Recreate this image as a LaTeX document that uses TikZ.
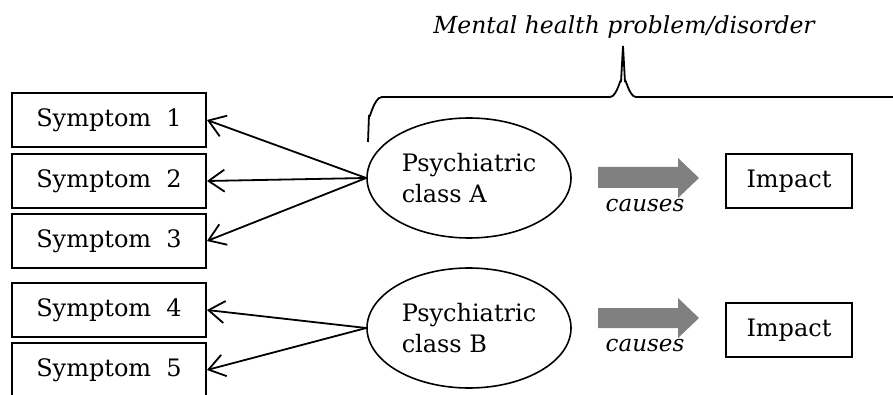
\documentclass[tikz,border=0pt]{standalone}
\usepackage{fontspec}
\setmainfont{DejaVu Serif}
\usetikzlibrary{arrows.meta,shapes.geometric}
\definecolor{arrowgrey}{RGB}{128,128,128}
\begin{document}
\begin{tikzpicture}[x=1pt,y=-1pt,
  every node/.style={font=\fontsize{24}{31}\selectfont},
  symbox/.style={draw,line width=1.9pt,minimum width=194pt,minimum height=54pt,inner sep=0pt},
  impbox/.style={draw,line width=1.9pt,minimum width=126pt,minimum height=54pt,inner sep=0pt},
  classell/.style={draw,ellipse,line width=1.6pt,minimum width=204pt,minimum height=120pt,inner sep=0pt,align=left},
  link/.style={line width=1.8pt,-{Straight Barb[length=16pt,width=22pt,line width=1.8pt]}},
  fatarrow/.style={fill=arrowgrey},
  causelbl/.style={font=\fontsize{23}{26}\selectfont\itshape},
  brace/.style={line width=1.8pt}]
\clip (0,0) rectangle (893,395);
\fill[white] (0,0) rectangle (893,395);

% symptom boxes
\node[symbox] (s1) at (109,120) {Symptom\ \ 1};
\node[symbox] (s2) at (109,181) {Symptom\ \ 2};
\node[symbox] (s3) at (109,241) {Symptom\ \ 3};
\node[symbox] (s4) at (109,310) {Symptom\ \ 4};
\node[symbox] (s5) at (109,370) {Symptom\ \ 5};

% latent classes
\node[classell] (ca) at (469,178) {Psychiatric\\class A};
\node[classell] (cb) at (469,328) {Psychiatric\\class B};

% class -> symptoms
\draw[link] (ca.west) -- (s1.east);
\draw[link] (ca.west) -- (s2.east);
\draw[link] (ca.west) -- (s3.east);
\draw[link] (cb.west) -- (s4.east);
\draw[link] (cb.west) -- (s5.east);

% impact boxes
\node[impbox] (ia) at (789,181) {Impact};
\node[impbox] (ib) at (789,330) {Impact};

% thick grey "causes" arrows
\fill[fatarrow] (598,167) -- (678,167) -- (678,158) -- (699,178) -- (678,198) -- (678,188) -- (598,188) -- cycle;
\fill[fatarrow] (598,308) -- (678,308) -- (678,298) -- (699,318) -- (678,338) -- (678,328) -- (598,328) -- cycle;
\node[causelbl] (la) at (645,206) {causes};
\node[causelbl] (lb) at (645,346) {causes};

% brace grouping class A with its impact
\draw[brace] (368,142) -- (369,115) to[out=-90,in=180] (382,97) -- (610,97)
  to[out=0,in=90] (621,82) -- (623,46) -- (625,82) to[out=90,in=180] (636,97) -- (900,97);
\node[font=\fontsize{23.5}{26}\selectfont\itshape] (title) at (624,27) {Mental health problem/disorder};
\end{tikzpicture}
\end{document}
